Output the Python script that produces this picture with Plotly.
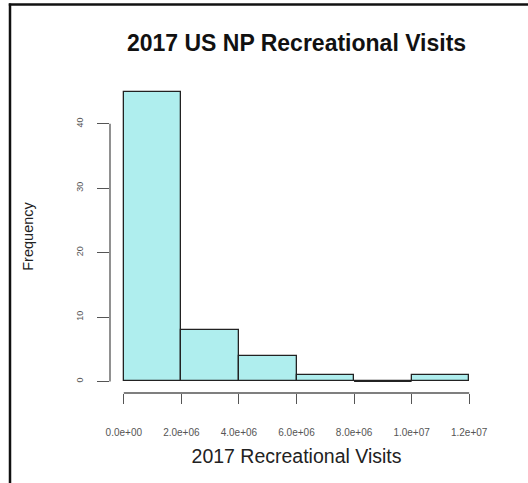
import plotly.graph_objects as go

# Data: histogram of 2017 US National Park recreational visits
bin_edges = [0, 2e6, 4e6, 6e6, 8e6, 10e6, 12e6]
counts = [45, 8, 4, 1, 0, 1]
x_tickvals = [0, 2e6, 4e6, 6e6, 8e6, 10e6, 12e6]
x_ticktext = ["0.0e+00", "2.0e+06", "4.0e+06", "6.0e+06", "8.0e+06", "1.0e+07", "1.2e+07"]
y_tickvals = [0, 10, 20, 30, 40]
y_ticktext = ["0", "10", "20", "30", "40"]

W, H = 528, 483
ML, MR, MT, MB = 110, 45, 80, 90
PW, PH = W - ML - MR, H - MT - MB

centers = [(a + b) / 2 for a, b in zip(bin_edges[:-1], bin_edges[1:])]
widths = [b - a for a, b in zip(bin_edges[:-1], bin_edges[1:])]

FONT = "Liberation Sans, Arial, sans-serif"
AX = "#555555"

fig = go.Figure()
fig.add_trace(go.Bar(
    x=centers, y=counts, width=widths,
    marker=dict(color="#AFEEEE", line=dict(color="#222222", width=1.3)),
    hoverinfo="x+y",
))
# R draws the border of empty bins as a line on the baseline
for c, w, n in zip(centers, widths, counts):
    if n == 0:
        fig.add_trace(go.Scatter(x=[c - w / 2, c + w / 2], y=[n, n], mode="lines",
                                 line=dict(color="#222222", width=1.2), hoverinfo="skip"))

span_x = x_tickvals[-1] - x_tickvals[0]
span_y = max(counts) - 0
xr = [x_tickvals[0] - 0.04 * span_x, x_tickvals[-1] + 0.04 * span_x]
yr = [0 - 0.04 * span_y, max(counts) + 0.04 * span_y]

def px2paper_x(px):
    return (px - ML) / PW

def px2paper_y(py):
    return (H - MB - py) / PH

shapes = [
    # R-style axis lines spanning the tick range only
    dict(type="line", xref="x", yref="paper", x0=x_tickvals[0], x1=x_tickvals[-1], y0=0, y1=0,
         line=dict(color=AX, width=1.3)),
    dict(type="line", xref="paper", yref="y", x0=0, x1=0, y0=y_tickvals[0], y1=y_tickvals[-1],
         line=dict(color=AX, width=1.3)),
    # screenshot frame (left and top borders)
    dict(type="line", xref="paper", yref="paper", x0=px2paper_x(10), x1=px2paper_x(10),
         y0=px2paper_y(3.5), y1=px2paper_y(H + 5), line=dict(color="#111111", width=2.5)),
    dict(type="line", xref="paper", yref="paper", x0=px2paper_x(8.8), x1=px2paper_x(W + 5),
         y0=px2paper_y(4.5), y1=px2paper_y(4.5), line=dict(color="#111111", width=2.5)),
]

fig.update_layout(
    width=W, height=H,
    margin=dict(l=ML, r=MR, t=MT, b=MB, pad=0),
    paper_bgcolor="white", plot_bgcolor="white",
    showlegend=False,
    bargap=0,
    font=dict(family=FONT, color="#222222"),
    title=dict(text="<b>2017 US NP Recreational Visits</b>", x=0.5, xref="paper",
               y=1 - 43 / H, yanchor="middle", font=dict(size=23, color="#111111")),
    xaxis=dict(range=xr, showgrid=False, zeroline=False, showline=False,
               tickmode="array", tickvals=x_tickvals, ticktext=x_ticktext,
               ticks="outside", ticklen=10, tickwidth=1.3, tickcolor=AX,
               tickfont=dict(size=10, color="#555555"), ticklabelstandoff=20,
               title=dict(text="2017 Recreational Visits", font=dict(size=19.5, color="#222222"), standoff=12)),
    yaxis=dict(range=yr, showgrid=False, zeroline=False, showline=False,
               tickmode="array", tickvals=y_tickvals, ticktext=y_ticktext,
               ticks="outside", ticklen=12, tickwidth=1.3, tickcolor=AX,
               tickangle=-90, tickfont=dict(size=9, color="#555555"), ticklabelstandoff=10,
               title=dict(text="Frequency", font=dict(size=14.5, color="#222222"), standoff=38)),
    shapes=shapes,
)

fig.write_html("out.html")
